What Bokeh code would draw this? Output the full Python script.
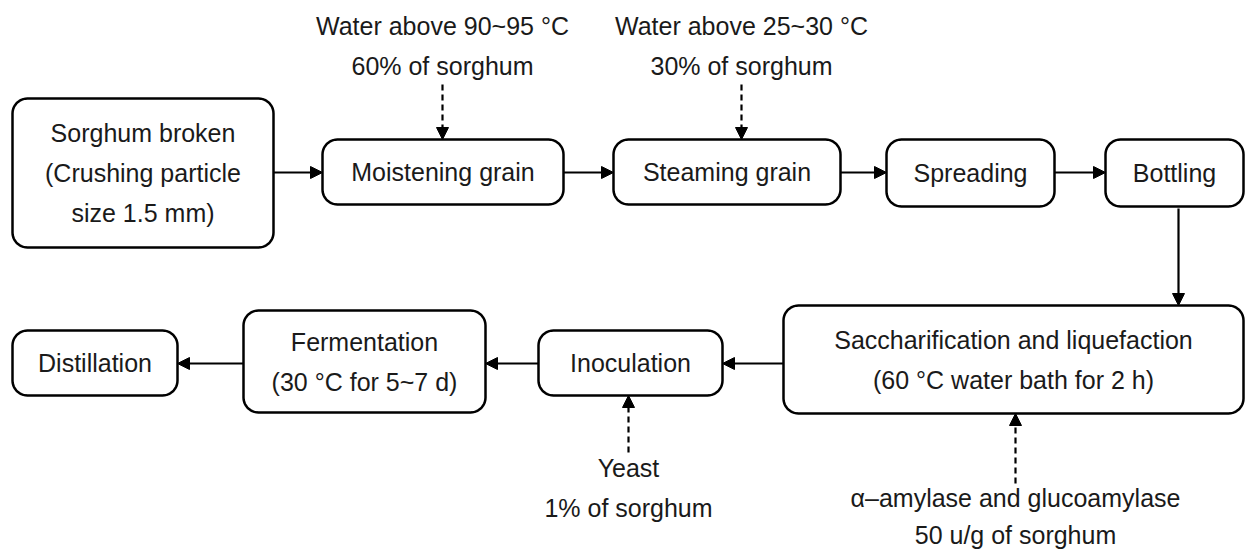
import numpy as np
from bokeh.plotting import figure
from bokeh.models import Range1d, Arrow, NormalHead
from bokeh.core.properties import value
from bokeh.embed import file_html
from bokeh.resources import INLINE

# ---- content ----
box_labels = [
    ["Sorghum broken", "(Crushing particle", "size 1.5 mm)"],
    ["Moistening grain"],
    ["Steaming grain"],
    ["Spreading"],
    ["Bottling"],
    ["Saccharification and liquefaction", "(60 \u00b0C water bath for 2 h)"],
    ["Inoculation"],
    ["Fermentation", "(30 \u00b0C for 5~7 d)"],
    ["Distillation"],
]
note_labels = [
    ["Water above 90~95 \u00b0C", "60% of sorghum"],
    ["Water above 25~30 \u00b0C", "30% of sorghum"],
    ["Yeast", "1% of sorghum"],
    ["\u03b1\u2013amylase and glucoamylase", "50 u/g of sorghum"],
]

# ---- layout (pixel-like coordinates, y downward) ----
box_left = [12, 322, 613, 886, 1105, 783, 538, 243, 12]
box_right = [273, 563, 840, 1054, 1243, 1243, 722, 485, 177]
box_top = [98, 139, 139, 139, 139, 305, 330, 310, 330]
box_bottom = [247, 204, 204, 206, 206, 413, 395, 412, 395]

note_x = [442, 741, 628, 1015]
note_y = [25, 25, 467, 497]
note_gap = [40, 40, 40, 37]

solid_arrows = [  # x0, y0, x1, y1
    (273, 172, 322, 172),
    (563, 172, 613, 172),
    (840, 172, 886, 172),
    (1054, 172, 1105, 172),
    (1178, 208, 1178, 305),
    (783, 363, 722, 363),
    (538, 363, 485, 363),
    (243, 363, 177, 363),
]
dashed_arrows = [
    (442, 84, 442, 139),
    (741, 84, 741, 139),
    (628, 452, 628, 395),
    (1015, 483, 1015, 413),
]

FONT = value("Liberation Sans")
FS = "25px"
LINE_GAP = 40
TXT = "#1a1a1a"

W, H = 1254, 549
p = figure(width=W, height=H, output_backend="svg", toolbar_location=None,
           x_range=Range1d(0, W), y_range=Range1d(H, 0), min_border=0)
p.axis.visible = False
p.grid.visible = False
p.outline_line_color = None
p.background_fill_color = "white"


def rounded(l, r, t, b, rad):
    xs, ys = [], []
    corners = [(r - rad, t + rad, -90, 0), (r - rad, b - rad, 0, 90),
               (l + rad, b - rad, 90, 180), (l + rad, t + rad, 180, 270)]
    for cx, cy, a0, a1 in corners:
        ang = np.radians(np.linspace(a0, a1, 12))
        xs.extend(cx + rad * np.cos(ang))
        ys.extend(cy + rad * np.sin(ang))
    xs.append(xs[0]); ys.append(ys[0])
    return xs, ys

bx, by = [], []
for l, r, t, b in zip(box_left, box_right, box_top, box_bottom):
    xs, ys = rounded(l, r, t, b, 15)
    bx.append(xs); by.append(ys)
p.patches(bx, by, fill_color="white", line_color="black", line_width=2.5)

# texts
tx, ty, tt = [], [], []
for lines, l, r, t, b in zip(box_labels, box_left, box_right, box_top, box_bottom):
    cx = (l + r) / 2
    cy = (t + b) / 2
    n = len(lines)
    for i, s in enumerate(lines):
        tx.append(cx); ty.append(cy + (i - (n - 1) / 2) * LINE_GAP); tt.append(s)
for lines, x, y, g in zip(note_labels, note_x, note_y, note_gap):
    for i, s in enumerate(lines):
        tx.append(x); ty.append(y + i * g); tt.append(s)
p.text(x=tx, y=ty, text=tt, text_font=FONT, text_font_size=FS, text_color=TXT,
       text_align="center", text_baseline="middle")

for x0, y0, x1, y1 in solid_arrows:
    p.add_layout(Arrow(x_start=x0, y_start=y0, x_end=x1, y_end=y1, line_width=2.2,
                       line_color="black",
                       end=NormalHead(size=12, fill_color="black", line_color="black")))
for x0, y0, x1, y1 in dashed_arrows:
    p.add_layout(Arrow(x_start=x0, y_start=y0, x_end=x1, y_end=y1, line_width=2.2,
                       line_color="black", line_dash="6 4",
                       end=NormalHead(size=12, fill_color="black", line_color="black",
                                      line_dash="solid")))

open("out.html", "w").write(file_html(p, INLINE))
